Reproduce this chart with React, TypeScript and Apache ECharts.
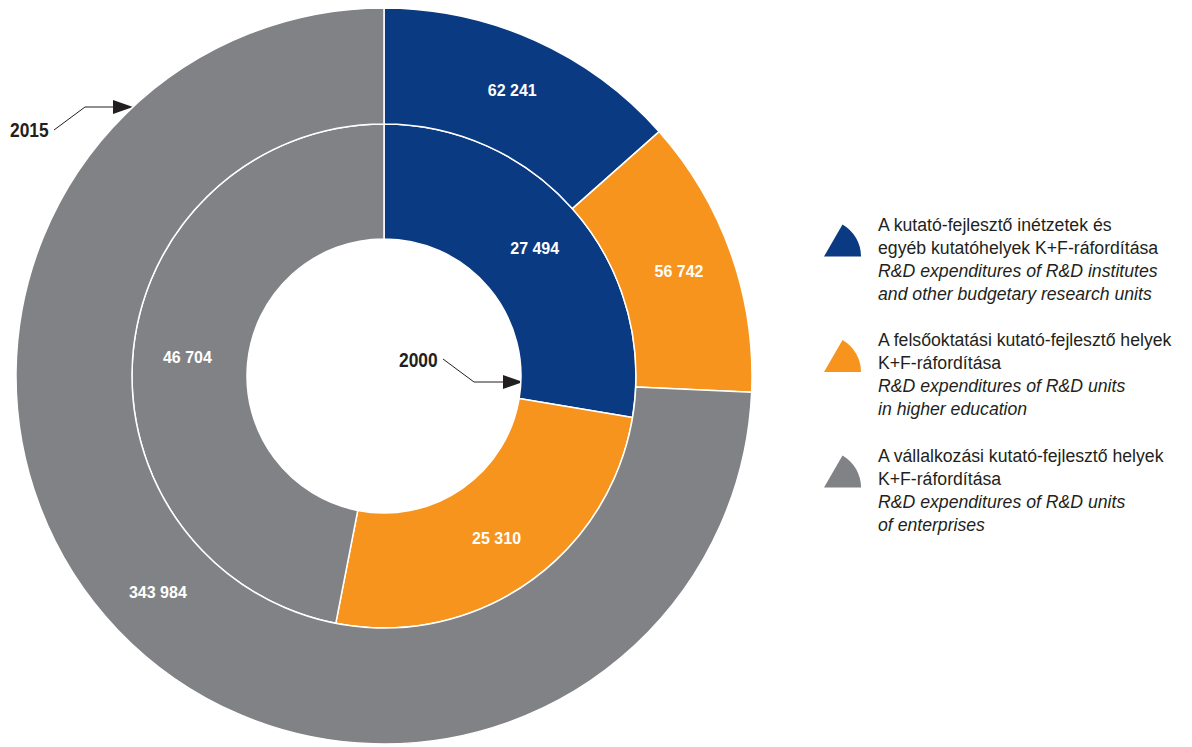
import React, { useEffect, useRef } from "react";
import * as echarts from "echarts";

const categories = [
  "A kutató-fejlesztő inétzetek és egyéb kutatóhelyek K+F-ráfordítása",
  "A felsőoktatási kutató-fejlesztő helyek K+F-ráfordítása",
  "A vállalkozási kutató-fejlesztő helyek K+F-ráfordítása",
];
const values2000 = [27494, 25310, 46704];
const values2015 = [62241, 56742, 343984];
const colors = ["#0a3a81", "#f7941d", "#808285"];

const legendLines = [
  ["A kutató-fejlesztő inétzetek és", "egyéb kutatóhelyek K+F-ráfordítása", "R&D expenditures of R&D institutes", "and other budgetary research units"],
  ["A felsőoktatási kutató-fejlesztő helyek", "K+F-ráfordítása", "R&D expenditures of R&D units", "in higher education"],
  ["A vállalkozási kutató-fejlesztő helyek", "K+F-ráfordítása", "R&D expenditures of R&D units", "of enterprises"],
];
const yearOuter = "2015";
const yearInner = "2000";

const SANS = "'Liberation Sans', Arial, sans-serif";
const TEXT = "#231f20";

function fmt(v: number): string {
  return String(v).replace(/\B(?=(\d{3})+(?!\d))/g, " ");
}

export default function App() {
  const ref = useRef<HTMLDivElement>(null);
  useEffect(() => {
    if (!ref.current) return;
    const chart = echarts.init(ref.current, undefined, { renderer: "svg" });
    const label = {
      show: true,
      position: "inside",
      color: "#ffffff",
      fontWeight: "bold",
      fontSize: 16,
      fontFamily: SANS,
      formatter: (p: any) => fmt(p.value),
    };
    const mk = (vals: number[]) =>
      vals.map((v, i) => ({ name: categories[i], value: v, itemStyle: { color: colors[i] } }));

    const graphics: any[] = [];
    legendLines.forEach((lines, b) => {
      const top = 224 + b * 115.5;
      graphics.push({
        type: "sector",
        shape: { cx: 824, cy: top + 32.5, r: 37, r0: 0, startAngle: -Math.PI / 3, endAngle: 0, clockwise: true },
        style: { fill: colors[b] },
      });
      lines.forEach((t, i) => {
        graphics.push({
          type: "text",
          x: 878,
          y: top + i * 23,
          scaleX: 0.93,
          style: {
            text: t,
            fill: TEXT,
            font: `${i >= 2 ? "italic " : ""}19px ${SANS}`,
            verticalAlign: "middle",
            align: "left",
          },
        });
      });
    });
    // annotations
    graphics.push(
      { type: "text", x: 10, y: 130, scaleX: 0.87, style: { text: yearOuter, fill: TEXT, font: `bold 20px ${SANS}`, verticalAlign: "middle" } },
      { type: "polyline", shape: { points: [[54, 130], [85, 107], [116, 107]] }, style: { stroke: TEXT, lineWidth: 1, fill: "none" } },
      { type: "polygon", shape: { points: [[113, 100], [133, 107], [113, 114]] }, style: { fill: TEXT } },
      { type: "text", x: 399, y: 360, scaleX: 0.87, style: { text: yearInner, fill: TEXT, font: `bold 20px ${SANS}`, verticalAlign: "middle" } },
      { type: "polyline", shape: { points: [[443, 359], [474, 382], [506, 382]] }, style: { stroke: TEXT, lineWidth: 1, fill: "none" } },
      { type: "polygon", shape: { points: [[503, 375], [523, 382], [503, 389]] }, style: { fill: TEXT } }
    );

    chart.setOption({
      animation: false,
      backgroundColor: "#ffffff",
      series: [
        {
          type: "pie",
          name: "2000",
          center: [384, 376],
          radius: [137, 252],
          startAngle: 90,
          clockwise: true,
          label,
          labelLine: { show: false },
          itemStyle: { borderColor: "#ffffff", borderWidth: 1.5 },
          emphasis: { disabled: true },
          data: mk(values2000),
        },
        {
          type: "pie",
          name: "2015",
          center: [384, 376],
          radius: [252, 368],
          startAngle: 90,
          clockwise: true,
          label,
          labelLine: { show: false },
          itemStyle: { borderColor: "#ffffff", borderWidth: 1.5 },
          emphasis: { disabled: true },
          data: mk(values2015),
        },
      ],
      graphic: graphics,
    });
    return () => chart.dispose();
  }, []);
  return <div ref={ref} style={{ position: "fixed", left: 0, top: 0, width: 1192, height: 747 }} />;
}
